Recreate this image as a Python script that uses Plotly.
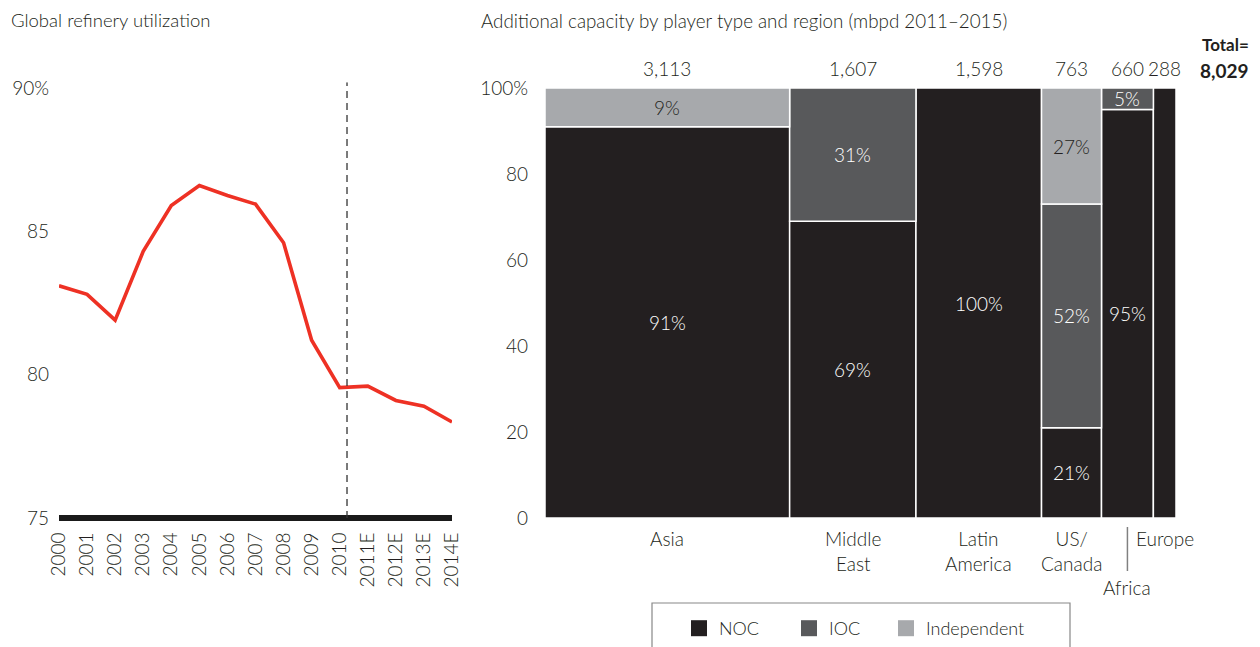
import plotly.graph_objects as go

# ---------------- data ----------------
years = ["2000", "2001", "2002", "2003", "2004", "2005", "2006", "2007",
         "2008", "2009", "2010", "2011E", "2012E", "2013E", "2014E"]
utilization = [83.1, 82.8, 81.9, 84.3, 85.9, 86.6, 86.25, 85.95,
               84.6, 81.2, 79.55, 79.6, 79.1, 78.9, 78.35]
util_ticks = [75, 80, 85, 90]
util_ticktext = ["75", "80", "85", "90%"]

regions = ["Asia", "Middle<br>East", "Latin<br>America", "US/<br>Canada", "Africa", "Europe"]
capacity = [3113, 1607, 1598, 763, 660, 288]
capacity_text = ["3,113", "1,607", "1,598", "763", "660", "288"]
total_text = "8,029"
noc = [91, 69, 100, 21, 95, 100]
ioc = [0, 31, 0, 52, 5, 0]
independent = [9, 0, 0, 27, 0, 0]
share_ticks = [0, 20, 40, 60, 80, 100]
share_ticktext = ["0", "20", "40", "60", "80", "100%"]

# ---------------- style ----------------
FONT = "Lato"
TXT = "#231f20"
C_NOC = "#231f20"
C_IOC = "#58595b"
C_IND = "#a7a9ac"
RED = "#ee3124"
W, H = 1260, 647
FS = 19
WT = 300


def f(size=FS, color=TXT, weight=WT):
    return dict(family=FONT, size=size, color=color, weight=weight)


fig = go.Figure()

# ---------- left chart: line ----------
fig.add_trace(go.Scatter(
    x=years, y=utilization, mode="lines",
    line=dict(color=RED, width=3.6), showlegend=False,
    xaxis="x", yaxis="y", hoverinfo="skip"))

# ---------- right chart: marimekko ----------
cum = []
s = 0
for c in capacity:
    cum.append(s + c / 2)
    s += c
total = s

series = [("NOC", noc, C_NOC, "white"),
          ("IOC", ioc, C_IOC, "white"),
          ("Independent", independent, C_IND, TXT)]
bases = [0] * len(regions)
annotations = []
for name, vals, col, tcol in series:
    yv = [v if v > 0 else None for v in vals]
    fig.add_trace(go.Bar(
        x=cum, y=yv, width=capacity, base=bases[:],
        marker=dict(color=col, line=dict(color="white", width=1.5)),
        showlegend=False, xaxis="x2", yaxis="y2", hoverinfo="skip"))
    for i, v in enumerate(vals):
        if v > 0 and regions[i] != "Europe":
            annotations.append(dict(
                x=cum[i], y=bases[i] + v / 2, xref="x2", yref="y2",
                text=f"{v}%", showarrow=False, font=f(color=tcol)))
    bases = [b + v for b, v in zip(bases, vals)]

# legend proxies, one legend per entry so spacing can follow the reference
legend_x = [679, 789, 886]
legend_names = ["legend", "legend2", "legend3"]
for (name, vals, col, tcol), lg in zip(series, legend_names):
    fig.add_trace(go.Scatter(
        x=[None], y=[None], mode="markers", name=name, legend=lg,
        marker=dict(symbol="square", size=18, color=col),
        xaxis="x2", yaxis="y2"))

# totals above bars
for i, t in enumerate(capacity_text):
    annotations.append(dict(
        x=cum[i], y=100, xref="x2", yref="y2", yanchor="bottom", yshift=6,
        text=t, showarrow=False, font=f()))

# region labels below bars
shapes = []
for i, r in enumerate(regions):
    if r == "Africa":
        annotations.append(dict(
            x=cum[i], y=0, xref="x2", yref="y2", yanchor="top", yshift=-56,
            text=r, showarrow=False, font=f()))
        shapes.append(dict(type="line", xref="x2", yref="paper",
                           x0=cum[i], x1=cum[i],
                           y0=1 - 527 / H, y1=1 - 571 / H,
                           line=dict(color="#808080", width=1.5)))
    else:
        annotations.append(dict(
            x=cum[i], y=0, xref="x2", yref="y2", yanchor="top", yshift=-7,
            text=r, showarrow=False, align="center", font=f()))

# titles
annotations += [
    dict(x=9 / W, y=1 - 20 / H, xref="paper", yref="paper", xanchor="left",
         yanchor="middle", text="Global refinery utilization", showarrow=False,
         font=f(18.5)),
    dict(x=479 / W, y=1 - 20 / H, xref="paper", yref="paper", xanchor="left",
         yanchor="middle",
         text="Additional capacity by player type and region (mbpd 2011–2015)",
         showarrow=False, font=f(18.8)),
    dict(x=1251 / W, y=1 - 45 / H, xref="paper", yref="paper", xanchor="right",
         yanchor="middle", text="<b>Total=</b>", showarrow=False,
         font=f(17, weight=700)),
    dict(x=1251 / W, y=1 - 70 / H, xref="paper", yref="paper", xanchor="right",
         yanchor="middle", text="<b>" + total_text + "</b>", showarrow=False,
         font=f(FS, weight=700)),
]

# left chart: thick baseline and dashed forecast divider
shapes += [
    dict(type="line", xref="x", yref="y", x0=0, x1=len(years) - 1, y0=75, y1=75,
         line=dict(color="#1a1a1a", width=6)),
    dict(type="line", xref="x", yref="y", x0=10.26, x1=10.26, y0=75, y1=90.2,
         line=dict(color="#333333", width=1.3, dash="7px,5px")),
    # legend frame
    dict(type="rect", xref="paper", yref="paper",
         x0=652 / W, x1=1070 / W, y0=-0.02, y1=1 - 603 / H,
         line=dict(color="#888888", width=1.2), fillcolor="rgba(0,0,0,0)"),
]

legend_common = dict(orientation="h", y=1 - 610 / H, xanchor="left",
                     yanchor="top", font=f(18),
                     bgcolor="rgba(0,0,0,0)", itemsizing="trace", itemwidth=30)

fig.update_layout(
    width=W, height=H, autosize=False,
    margin=dict(l=0, r=0, t=0, b=0, autoexpand=False),
    paper_bgcolor="white", plot_bgcolor="white",
    font=dict(family=FONT, color=TXT),
    barmode="overlay",
    xaxis=dict(domain=[59 / W, 452 / W], type="category", categoryarray=years,
               range=[0, len(years) - 1], tickangle=-90, showgrid=False,
               zeroline=False, showline=False, ticks="",
               ticklabelstandoff=4, tickfont=f()),
    yaxis=dict(domain=[(H - 523.7) / H, (H - 82.3) / H], range=[74.8, 90.2],
               tickvals=util_ticks, ticktext=util_ticktext, showgrid=False,
               zeroline=False, showline=False, ticks="",
               ticklabelstandoff=9, tickfont=f()),
    xaxis2=dict(domain=[545 / W, 1176 / W], range=[0, total], visible=False),
    yaxis2=dict(domain=[(H - 518) / H, (H - 88) / H], range=[0, 100],
                anchor="x2", tickvals=share_ticks, ticktext=share_ticktext,
                showgrid=False, zeroline=False, showline=False, ticks="",
                ticklabelstandoff=16, tickfont=f()),
    legend=dict(x=legend_x[0] / W, **legend_common),
    legend2=dict(x=legend_x[1] / W, **legend_common),
    legend3=dict(x=legend_x[2] / W, **legend_common),
    annotations=annotations,
    shapes=shapes,
)

fig.write_html("out.html", config={"displayModeBar": False},
               post_script="document.body.style.margin='0';")
